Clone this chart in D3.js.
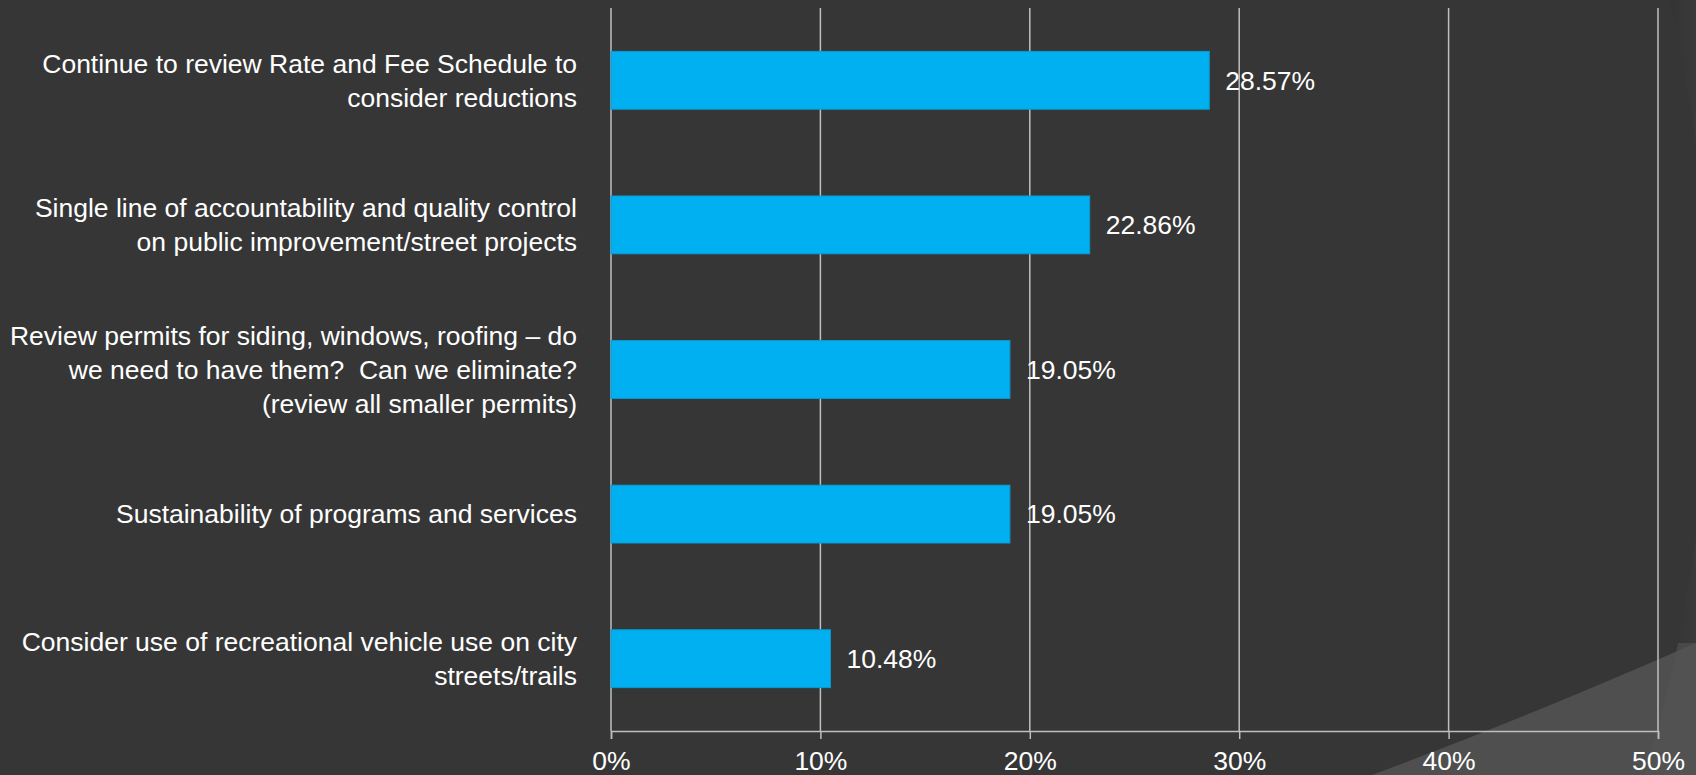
<!DOCTYPE html>
<html>
<head>
<meta charset="utf-8">
<script src="https://cdn.jsdelivr.net/npm/d3@7"></script>
<style>
  html, body { margin: 0; padding: 0; background: #363636; overflow: hidden; }
  svg { display: block; }
  text { font-family: "Liberation Sans", Arial, sans-serif; fill: #ffffff; }
</style>
</head>
<body>
<script>
// ---- data ----
const categories = [
  "Continue to review Rate and Fee Schedule to consider reductions",
  "Single line of accountability and quality control on public improvement/street projects",
  "Review permits for siding, windows, roofing – do we need to have them?  Can we eliminate? (review all smaller permits)",
  "Sustainability of programs and services",
  "Consider use of recreational vehicle use on city streets/trails"
];
const categoryLines = [
  ["Continue to review Rate and Fee Schedule to", "consider reductions"],
  ["Single line of accountability and quality control", "on public improvement/street projects"],
  ["Review permits for siding, windows, roofing – do", "we need to have them?  Can we eliminate?", "(review all smaller permits)"],
  ["Sustainability of programs and services"],
  ["Consider use of recreational vehicle use on city", "streets/trails"]
];
const values = [28.57, 22.86, 19.05, 19.05, 10.48];
const valueLabels = ["28.57%", "22.86%", "19.05%", "19.05%", "10.48%"];
const tickValues = [0, 10, 20, 30, 40, 50];
const tickLabels = ["0%", "10%", "20%", "30%", "40%", "50%"];

(function () {
// ---- layout ----
const W = 1696, H = 775;
const mLeft = 611, mRight = 1658, mTop = 8, mBottom = 731;

const svg = d3.select("body").append("svg").attr("width", W).attr("height", H);

// background + decorative theme shapes
svg.append("rect").attr("width", W).attr("height", H).attr("fill", "#363636");
const defs = svg.append("defs");
const g1 = defs.append("linearGradient").attr("id", "edge").attr("x1", "0").attr("x2", "1").attr("y1", "0").attr("y2", "0");
g1.append("stop").attr("offset", "0").attr("stop-color", "#2c2c2c");
g1.append("stop").attr("offset", "1").attr("stop-color", "#3e3e3e");
const cx = 209, cy = 340, R = 1500;
const arcX = yy => cx + Math.sqrt(R * R - (yy - cy) * (yy - cy));
svg.append("path")
  .attr("d", `M${W},0 L${arcX(0)},0 A${R},${R} 0 0 1 ${arcX(H)},${H} L${W},${H} Z`)
  .attr("fill", "url(#edge)");
svg.append("path")
  .attr("d", `M1372,${H} Q1530,716 ${W},643 L${W},${H} Z`)
  .attr("fill", "#4f4f4f");
svg.append("path")
  .attr("d", `M${arcX(643)},643 A${R},${R} 0 0 1 ${arcX(H)},${H} L${W},${H} L${W},643 Z`)
  .attr("fill", "#555555").attr("opacity", 0.6);

// scales
const x = d3.scaleLinear().domain([0, 50]).range([mLeft, mRight]);
const y = d3.scaleBand().domain(categories).range([mTop, mBottom]).paddingInner(0.6).paddingOuter(0.3);

// gridlines
svg.append("g").selectAll("line").data(tickValues).join("line")
  .attr("x1", d => x(d)).attr("x2", d => x(d))
  .attr("y1", mTop).attr("y2", mBottom)
  .attr("stroke", "#bfbfbf").attr("stroke-width", 1.5);

// bottom axis
const axis = svg.append("g").attr("transform", `translate(0,${mBottom})`)
  .call(d3.axisBottom(x).tickValues(tickValues).tickFormat((d, i) => tickLabels[i]).tickSize(8).tickPadding(12));
axis.select(".domain").attr("stroke", "#bfbfbf").attr("stroke-width", 1.5);
axis.selectAll(".tick line").attr("stroke", "#bfbfbf").attr("stroke-width", 1.5);
axis.selectAll(".tick text").attr("fill", "#ffffff").style("font-size", "26.5px")
  .style("font-family", '"Liberation Sans", Arial, sans-serif');

// bars
svg.append("g").selectAll("rect").data(categories).join("rect")
  .attr("x", x(0))
  .attr("y", d => y(d))
  .attr("width", (d, i) => x(values[i]) - x(0))
  .attr("height", y.bandwidth())
  .attr("fill", "#00b0f0")
  .attr("stroke", "#0a9ad2").attr("stroke-width", 1);

// value labels
svg.append("g").selectAll("text").data(categories).join("text")
  .attr("x", (d, i) => x(values[i]) + 16)
  .attr("y", d => y(d) + y.bandwidth() / 2)
  .attr("dy", "0.35em")
  .style("font-size", "26.5px")
  .text((d, i) => valueLabels[i]);

// category labels
const lineH = 34;
const lab = svg.append("g").selectAll("text").data(categories).join("text")
  .attr("text-anchor", "end")
  .attr("xml:space", "preserve")
  .style("font-size", "26.5px")
  .style("white-space", "pre")
  .attr("y", d => y(d) + y.bandwidth() / 2);
lab.each(function (d, i) {
  const lines = categoryLines[i];
  const n = lines.length;
  d3.select(this).selectAll("tspan").data(lines).join("tspan")
    .attr("x", 577)
    .attr("y", (l, j) => y(d) + y.bandwidth() / 2 + (j - (n - 1) / 2) * lineH)
    .attr("dy", "0.35em")
    .text(l => l);
});
})();
</script>
</body>
</html>
